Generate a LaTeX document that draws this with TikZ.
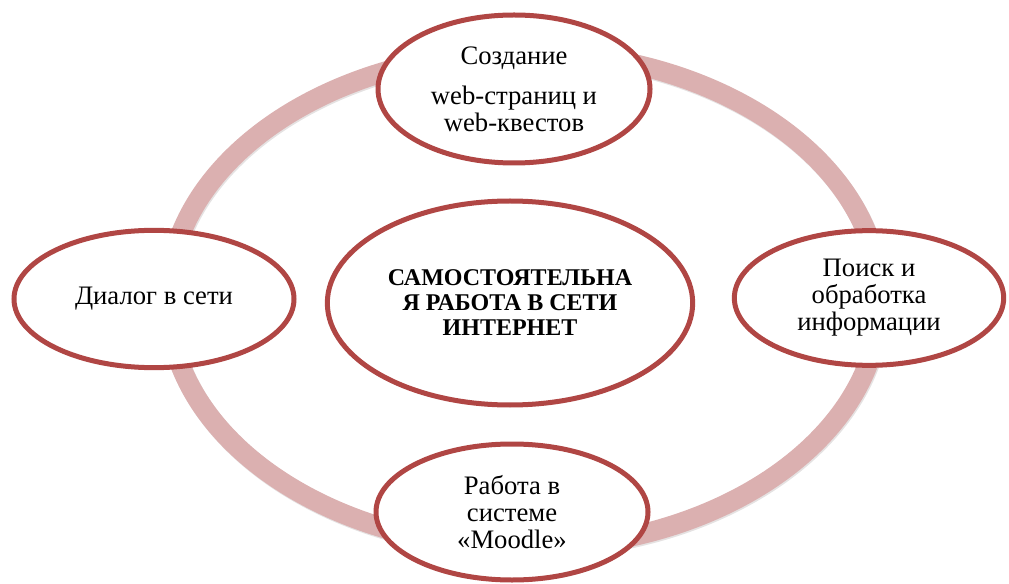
\documentclass[tikz,border=0pt]{standalone}
\usepackage{fontspec}
\setmainfont{Liberation Serif}
\usetikzlibrary{positioning,shapes.geometric,shadows}
\definecolor{ringred}{RGB}{176,70,68}
\definecolor{ringpink}{RGB}{219,176,176}
\definecolor{ringshade}{RGB}{150,140,140}
\tikzset{
  cycnode/.style={ellipse,draw=ringred,line width=3.75pt,fill=white,inner sep=0pt,align=center,
    font=\fontsize{20}{20.3}\selectfont,
    drop shadow={opacity=0.15,shadow xshift=0.8pt,shadow yshift=-1.5pt}},
  hubnode/.style={cycnode,font=\bfseries\fontsize{18}{18.75}\selectfont},
  ringedge/.style={draw=ringpink,line width=15pt},
  ringshadow/.style={draw=ringshade,line width=15pt,opacity=0.25}
}
\begin{document}
\begin{tikzpicture}[x=0.75pt,y=-0.75pt]
  \useasboundingbox (0,0) rectangle (1009,584);
  \coordinate (hub) at (524,300);
  \coordinate (hubshade) at (525,301.5);
  \draw[ringshadow] (hubshade) ellipse [x radius=267pt, y radius=186pt];
  \draw[ringedge] (hub) ellipse [x radius=267pt, y radius=186pt];
  \node[cycnode,minimum width=204pt,minimum height=111pt] (web) at (514,89) {Создание\\[9.5pt]web-страниц и\\web-квестов};
  \node[cycnode,minimum width=210pt,minimum height=103pt] (dialog) at (154,299) {Диалог в сети};
  \node[cycnode,minimum width=202pt,minimum height=101pt] (search) at (869,298) {Поиск и\\обработка\\информации};
  \node[cycnode,minimum width=204pt,minimum height=102pt] (moodle) at (512,512) {Работа в\\системе\\«Moodle»};
  \node[hubnode,minimum width=274pt,minimum height=153pt] (main) at (510,303) {САМОСТОЯТЕЛЬНА\\Я РАБОТА В СЕТИ\\ИНТЕРНЕТ};
\end{tikzpicture}
\end{document}
